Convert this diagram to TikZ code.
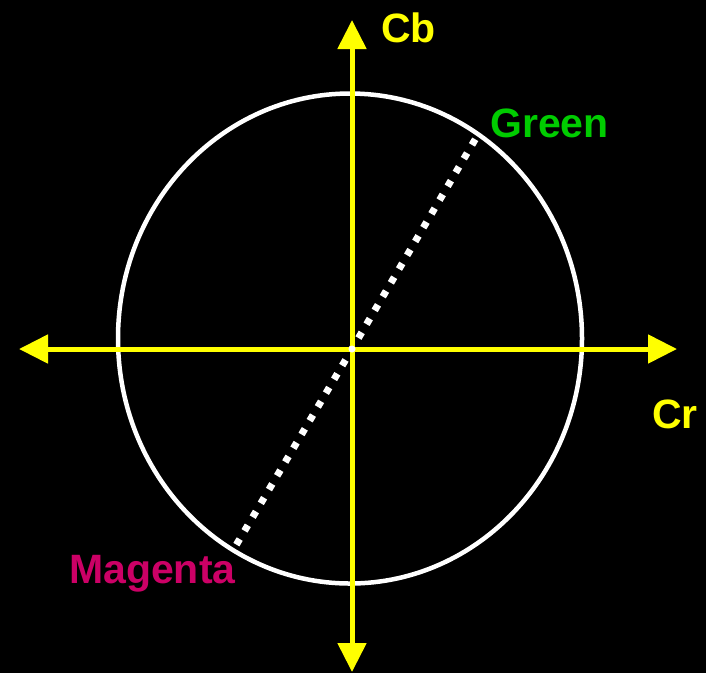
\documentclass[tikz,border=0pt]{standalone}
\usepackage{fontspec}
\setmainfont{Liberation Sans}
\usetikzlibrary{arrows.meta}
\definecolor{axisyellow}{RGB}{255,255,0}
\definecolor{greenlbl}{RGB}{0,204,0}
\definecolor{magentalbl}{RGB}{204,0,102}
\begin{document}
\begin{tikzpicture}[x=1pt,y=-1pt,
  axis/.style={draw=axisyellow,line width=5pt,{Triangle[width=28pt,length=29pt]}-{Triangle[width=28pt,length=29pt]}},
  ring/.style={draw=white,line width=4.5pt},
  dotline/.style={draw=white,line width=7pt,dash pattern=on 6.5pt off 9.5pt,dash phase=3.25pt},
  lbl/.style={font=\bfseries\fontsize{41}{41}\selectfont,inner sep=0pt,anchor=base west}]
\fill[black] (0,0) rectangle (706,673);
\useasboundingbox (0,0) rectangle (706,673);
\coordinate (O) at (352,349);
\coordinate (L) at (19,349);
\coordinate (R) at (677,349);
\coordinate (T) at (352,20);
\coordinate (B) at (352,672);
\coordinate (C) at (350,338.5);
\coordinate (G) at (476,138);
\coordinate (M) at (235,547);
\draw[ring] (C) ellipse [x radius=232, y radius=245];
\draw[dotline] (O) -- (G);
\draw[dotline] (O) -- (M);
\draw[axis] (L) -- (R);
\draw[axis] (B) -- (T);
\node[lbl,text=axisyellow] (cb) at (381,42) {Cb};
\node[lbl,text=axisyellow] (cr) at (652,428) {Cr};
\node[lbl,text=greenlbl] (gr) at (490,137) {Green};
\node[lbl,text=magentalbl] (mg) at (69,583) {Magenta};
\fill[white] (O) circle (3.5pt);
\end{tikzpicture}
\end{document}
